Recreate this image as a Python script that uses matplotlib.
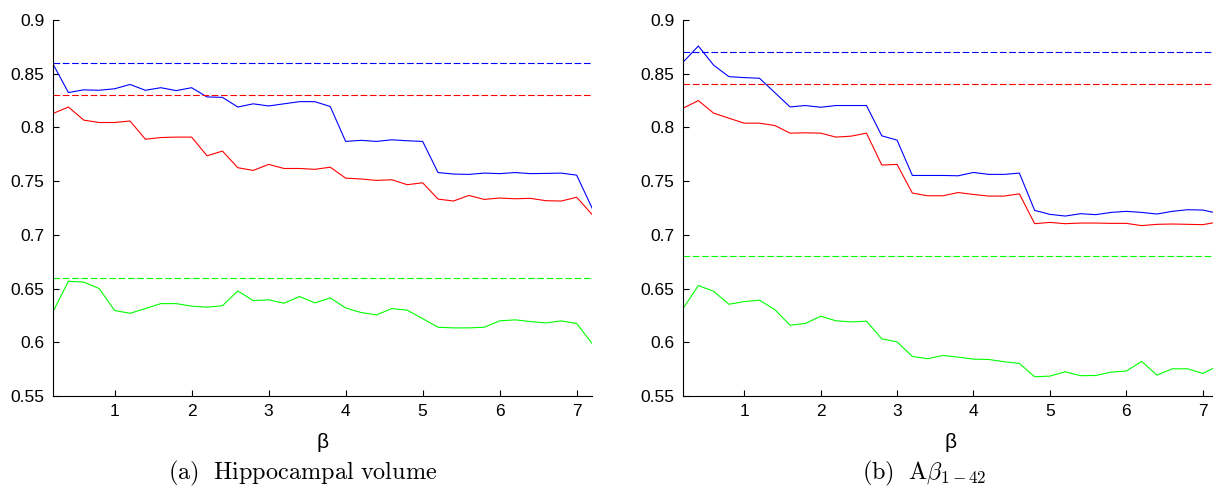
import matplotlib
matplotlib.use("Agg")
import matplotlib.pyplot as plt
import numpy as np

plt.rcParams.update({
    "font.family": ["Liberation Sans", "DejaVu Sans"],
    "mathtext.fontset": "cm",
    "lines.scale_dashes": False,
    "xtick.direction": "in",
    "ytick.direction": "in",
})

beta = np.round(np.arange(1, 37) * 0.2, 1)

# (a) Hippocampal volume
hip_blue = [0.859, 0.8325, 0.835, 0.8346, 0.836, 0.840, 0.8346, 0.837, 0.8343, 0.837,
            0.8284, 0.828, 0.819, 0.822, 0.820, 0.822, 0.824, 0.824, 0.8195, 0.787,
            0.788, 0.787, 0.7885, 0.7876, 0.787, 0.758, 0.7566, 0.7563, 0.7575, 0.757,
            0.758, 0.757, 0.7572, 0.7575, 0.7556, 0.725]
hip_red = [0.813, 0.819, 0.8068, 0.8046, 0.8046, 0.806, 0.789, 0.7906, 0.791, 0.791,
           0.7736, 0.778, 0.7625, 0.760, 0.7656, 0.7618, 0.7618, 0.761, 0.763, 0.7528,
           0.752, 0.7507, 0.7513, 0.7467, 0.7485, 0.7333, 0.7315, 0.7367, 0.733, 0.7343,
           0.7336, 0.734, 0.7318, 0.7315, 0.735, 0.719]
hip_green = [0.6286, 0.6568, 0.656, 0.650, 0.6296, 0.627, 0.6314, 0.636, 0.636, 0.6336,
             0.6327, 0.634, 0.6478, 0.6388, 0.6395, 0.6364, 0.6426, 0.6367, 0.6413, 0.632,
             0.6277, 0.6255, 0.6314, 0.6299, 0.622, 0.614, 0.6134, 0.6134, 0.614, 0.6199,
             0.6209, 0.6193, 0.618, 0.6199, 0.6175, 0.599]
hip_ref = [0.86, 0.83, 0.66]

# (b) Abeta 1-42
ab_blue = [0.8607, 0.8758, 0.858, 0.8473, 0.8464, 0.8458, 0.8325, 0.8191, 0.8204, 0.8188,
           0.8204, 0.8204, 0.8204, 0.7922, 0.7882, 0.7553, 0.7553, 0.7553, 0.755, 0.7581,
           0.7563, 0.7563, 0.7575, 0.7228, 0.7191, 0.7175, 0.7197, 0.7188, 0.7209, 0.7219,
           0.7209, 0.7194, 0.7219, 0.7234, 0.7231, 0.720]
ab_red = [0.8179, 0.825, 0.8133, 0.8086, 0.804, 0.804, 0.8018, 0.7947, 0.795, 0.7947,
          0.791, 0.7919, 0.7947, 0.765, 0.7656, 0.7389, 0.7364, 0.7364, 0.7394, 0.7376,
          0.7361, 0.7361, 0.7382, 0.7104, 0.7116, 0.7104, 0.711, 0.711, 0.7107, 0.7107,
          0.7086, 0.7098, 0.7101, 0.7098, 0.7095, 0.712]
ab_green = [0.6314, 0.6528, 0.6475, 0.6354, 0.6379, 0.6392, 0.6305, 0.6159, 0.6175, 0.6243,
            0.620, 0.619, 0.6196, 0.6032, 0.6004, 0.5868, 0.5847, 0.5877, 0.5862, 0.5843,
            0.584, 0.5819, 0.5803, 0.5679, 0.5685, 0.5726, 0.5689, 0.5691, 0.5722, 0.5732,
            0.5822, 0.5694, 0.5753, 0.5753, 0.571, 0.578]
ab_ref = [0.87, 0.84, 0.68]

COLORS = ["#0000ff", "#ff0000", "#00ff00"]
YTICKS = [0.55, 0.6, 0.65, 0.7, 0.75, 0.8, 0.85, 0.9]
YLABELS = ["0.55", "0.6", "0.65", "0.7", "0.75", "0.8", "0.85", "0.9"]


def panel(ax, series, refs):
    for ys, c in zip(series, COLORS):
        ax.plot(beta, ys, color=c, lw=0.8)
    for r, c in zip(refs, COLORS):
        ax.axhline(r, color=c, lw=0.8, dashes=(4.8, 1.9))
    ax.set_xlim(0.2, 7.2)
    ax.set_ylim(0.55, 0.9)
    ax.set_xticks(range(1, 8))
    ax.set_yticks(YTICKS)
    ax.set_yticklabels(YLABELS)
    ax.tick_params(labelsize=12.5, length=4, width=0.8, pad=6)
    ax.spines["top"].set_visible(False)
    ax.spines["right"].set_visible(False)
    ax.set_xlabel("β", fontsize=15, labelpad=10)


fig = plt.figure(figsize=(12.13, 4.86), dpi=100)
ax1 = fig.add_axes([0.0437, 0.1852, 0.4444, 0.7736])
ax2 = fig.add_axes([0.5631, 0.1852, 0.4411, 0.7736])
panel(ax1, [hip_blue, hip_red, hip_green], hip_ref)
panel(ax2, [ab_blue, ab_red, ab_green], ab_ref)

fig.text(0.361, 0.0144, r"$\mathrm{(a)\ \ Hippocampal\ volume}$", ha="right",
         va="baseline", fontsize=17.5)
fig.text(0.7106, 0.0144, r"$\mathrm{(b)\ \ A}\beta_{1-42}$", ha="left",
         va="baseline", fontsize=17.5)

fig.savefig("out.png", dpi=100)
